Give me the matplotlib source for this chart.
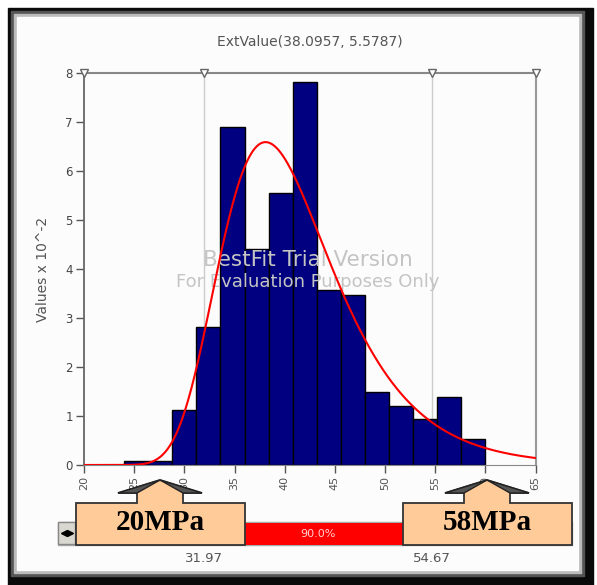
import numpy as np
import matplotlib
matplotlib.use('Agg')
import matplotlib.pyplot as plt
from matplotlib.patches import Rectangle, Polygon
from matplotlib.transforms import blended_transform_factory

# histogram (values x 10^-2)
bin_edges = [24.0, 26.4, 28.8, 31.2, 33.6, 36.0, 38.4, 40.8, 43.2,
             45.6, 48.0, 50.4, 52.8, 55.2, 57.6, 60.0]
heights = [0.08, 0.08, 1.12, 2.82, 6.90, 4.41, 5.56, 7.82,
           3.57, 3.48, 1.50, 1.21, 0.93, 1.39, 0.54]

# fitted extreme value distribution from the title
loc, scale = 38.0957, 5.5787
title = 'ExtValue(38.0957, 5.5787)'

# markers / delimiters
left_mark, right_mark = 31.97, 54.67
pct_label = '90.0%'
callout_texts = ['20MPa', '58MPa']

x_ticks = [20, 25, 30, 35, 40, 45, 50, 55, 60, 65]
y_ticks = [0, 1, 2, 3, 4, 5, 6, 7, 8]

W, H = 597, 585
fig = plt.figure(figsize=(W / 100, H / 100), dpi=100)
fig.patch.set_facecolor('white')

# background frame
bg = fig.add_axes([0, 0, 1, 1], zorder=0)
bg.set_xlim(0, W)
bg.set_ylim(H, 0)
bg.axis('off')
bg.add_patch(Rectangle((8, 8), 585, 577, color='#0a0a0a'))
bg.add_patch(Rectangle((11, 11), 573, 565, color='#555555'))
bg.add_patch(Rectangle((14, 14), 567, 559, color='#bbbbbb'))
bg.add_patch(Rectangle((17, 17), 561, 553, color='#fcfcfc'))

# main chart
ax = fig.add_axes([84 / W, 1 - 465 / H, 451.5 / W, 391.7 / H], zorder=1)
ax.set_facecolor('none')
widths = np.diff(bin_edges)
ax.bar(bin_edges[:-1], heights, width=widths, align='edge',
       color='#000080', edgecolor='black', linewidth=1, zorder=2)

xs = np.linspace(20, 65, 400)
z = (xs - loc) / scale
pdf = np.exp(-z - np.exp(-z)) / scale * 100
ax.plot(xs, pdf, color='#ff0000', lw=1.5, zorder=4)

ax.axvline(left_mark, color='#cccccc', lw=1, zorder=1)
ax.axvline(right_mark, color='#cccccc', lw=1, zorder=1)
ax.plot([20, left_mark, right_mark, 65], [8, 8, 8, 8], ls='none', marker='v',
        ms=6, mfc='white', mec='#666666', mew=1, clip_on=False, zorder=5)

ax.set_xlim(20, 65)
ax.set_ylim(0, 8)
ax.set_xticks(x_ticks)
ax.set_yticks(y_ticks)
ax.set_xticklabels([str(t) for t in x_ticks], rotation=90, fontsize=8, color='#555555')
ax.set_yticklabels([str(t) for t in y_ticks], fontsize=8.5, color='#444444')
ax.tick_params(axis='both', length=6, width=1, color='#555555', pad=2)
ax.spines['left'].set_color('#666666')
ax.spines['left'].set_linewidth(1.3)
ax.spines['bottom'].set_color('#888888')
ax.spines['top'].set_color('#888888')
ax.spines['top'].set_linewidth(1.5)
ax.spines['right'].set_color('#999999')
ax.spines['right'].set_linewidth(1.5)
ax.set_ylabel('Values x 10^-2', fontsize=10, color='#555555', labelpad=11)
ax.set_title(title, fontsize=10, color='#555555', pad=20)

ax.text(42.3, 4.19, 'BestFit Trial Version', fontsize=15.5, color='#c4c4c4',
        ha='center', va='center', zorder=3)
ax.text(42.3, 3.74, 'For Evaluation Purposes Only', fontsize=13, color='#c4c4c4',
        ha='center', va='center', zorder=3)

# foreground: scroll bar and callouts
fg = fig.add_axes([0, 0, 1, 1], zorder=2)
fg.set_xlim(0, W)
fg.set_ylim(H, 0)
fg.axis('off')
fg.patch.set_alpha(0)

fg.add_patch(Rectangle((58, 522), 514, 23, facecolor='white', edgecolor='#aaaaaa', lw=1))
fg.add_patch(Rectangle((58, 522), 17, 22, facecolor='#d8d8d0', edgecolor='#888888', lw=1))
fg.plot([63.5], [533], marker='<', color='black', ms=4)
fg.plot([69.5], [533], marker='>', color='black', ms=4)

mix = blended_transform_factory(ax.transData, fg.transData)
fg.add_patch(Rectangle((left_mark, 523), right_mark - left_mark, 22,
                       facecolor='#ff0000', edgecolor='none', transform=mix))
fg.text((left_mark + right_mark) / 2, 534, pct_label, transform=mix,
        fontsize=8, color='#ffd0d0', ha='center', va='center')
fg.text(left_mark, 558, f'{left_mark:.2f}', transform=mix, fontsize=9.5,
        color='#555555', ha='center', va='center')
fg.text(right_mark, 558, f'{right_mark:.2f}', transform=mix, fontsize=9.5,
        color='#555555', ha='center', va='center')


def callout(cx, label):
    # box with an up arrow, centred on cx (pixels)
    pts = [(cx - 84, 545), (cx - 84, 503), (cx - 23, 503), (cx - 23, 493),
           (cx - 42, 493), (cx, 480), (cx + 42, 493), (cx + 23, 493),
           (cx + 23, 503), (cx + 85, 503), (cx + 85, 545)]
    fg.add_patch(Polygon(pts, closed=True, facecolor='#ffcc99',
                         edgecolor='#333333', lw=1.3, zorder=5))
    # darker wings of the arrow head
    fg.add_patch(Polygon([(cx - 42, 493), (cx, 480), (cx - 23, 493)],
                         closed=True, facecolor='#555555', edgecolor='#222222',
                         lw=1, zorder=5))
    fg.add_patch(Polygon([(cx + 42, 493), (cx, 480), (cx + 23, 493)],
                         closed=True, facecolor='#555555', edgecolor='#222222',
                         lw=1, zorder=5))
    fg.text(cx, 523, label, fontsize=21, fontweight='bold',
            family='Liberation Serif', color='black',
            ha='center', va='center', zorder=6)


callout(160, callout_texts[0])
callout(487, callout_texts[1])

fig.savefig('out.png', dpi=100)
